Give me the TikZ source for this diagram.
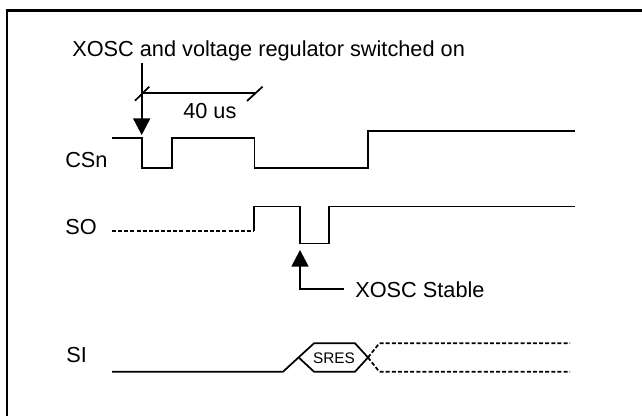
\documentclass[tikz,border=0pt]{standalone}
\usepackage{fontspec}
\setmainfont{Liberation Sans}
\usetikzlibrary{arrows.meta}
\begin{document}
\begin{tikzpicture}[x=0.75pt,y=-0.75pt,
  sig/.style={line width=1.3pt, line join=miter},
  dotsig/.style={line width=1.3pt, dash pattern=on 3pt off 1.6pt},
  lbl/.style={inner sep=0pt, anchor=base west, font=\fontsize{16.3}{19}\selectfont},
  arr/.style={line width=1.3pt, -{Triangle[width=12.75pt,length=12.5pt]}},
  frame/.style={line width=2pt},
]
\useasboundingbox (0,0) rectangle (642,416);
% frame (right and bottom edges lie outside the picture)
\draw[frame] (7,430) -- (7,10.3) -- (660,10.3);

% labels
\node[lbl] (title) at (72,56.5) {XOSC and voltage regulator switched on};
\node[lbl] (csn) at (65,168) {CSn};
\node[lbl] (so) at (65,235) {SO};
\node[lbl] (si) at (66,363) {SI};
\node[lbl] (t40) at (183,118.3) {40 us};
\node[lbl] (stable) at (355,298) {XOSC Stable};
\node[inner sep=0pt, font=\fontsize{11.5}{13}\selectfont] (sres) at (334,357.8) {SRES};

% switch-on arrow and 40 us dimension
\coordinate (onTop) at (141.7,63);
\coordinate (onTip) at (141.7,135);
\draw[arr] (onTop) -- (onTip);
\coordinate (dimL) at (141.7,93.3);
\coordinate (dimR) at (255,93.3);
\draw[sig] (dimL) -- (dimR);
\draw[sig] (135,100.7) -- (149.3,86.7);
\draw[sig] (247,101) -- (262.5,86.7);

% CSn waveform
\draw[sig] (112,138.3) -- (141.7,138.3) -- (141.7,168) -- (172,168) -- (172,138.3)
  -- (254.5,138.3) -- (254.5,168) -- (368,168) -- (368,131) -- (575,131);

% SO waveform
\draw[dotsig] (112,230.7) -- (254,230.7);
\draw[sig] (254,230.7) -- (254,206.5) -- (300,206.5) -- (300,243.5) -- (329,243.5)
  -- (329,206.5) -- (575,206.5);

% XOSC Stable arrow
\coordinate (stTip) at (300,250);
\coordinate (stCorner) at (300,289);
\coordinate (stEnd) at (344,289);
\draw[arr] (stEnd) -- (stCorner) -- (stTip);

% SI waveform with SRES hexagon
\coordinate (hexL) at (298.7,357.5);
\coordinate (hexR) at (368,357.5);
\draw[sig] (112,371.7) -- (283,371.7) -- (314,343.3) -- (355,343.3) -- (hexR)
  -- (355,371.7) -- (314,371.7) -- (hexL);
\draw[dotsig] (hexR) -- (379.3,343.3) -- (570,343.3);
\draw[dotsig] (hexR) -- (379.3,371.7) -- (570,371.7);
\end{tikzpicture}
\end{document}
